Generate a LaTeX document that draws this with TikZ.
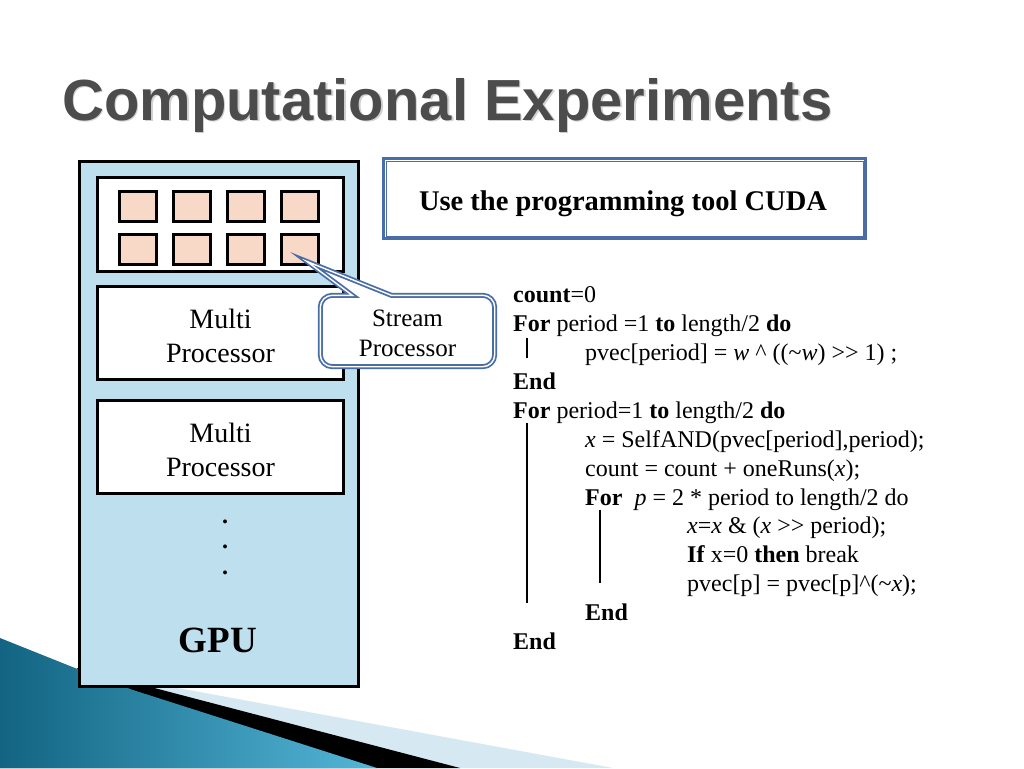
\documentclass[tikz,border=0pt]{standalone}
\usepackage{fontspec}
\setmainfont{Liberation Serif}
\newfontfamily\headfont{Liberation Sans}
\usetikzlibrary{positioning,calc}
\definecolor{gpublue}{RGB}{190,223,238}
\definecolor{corepeach}{RGB}{248,217,200}
\definecolor{frameblue}{RGB}{74,109,165}
\definecolor{titlegray}{RGB}{76,76,76}
\definecolor{tealdark}{RGB}{18,100,130}
\definecolor{teallight}{RGB}{84,182,216}
\definecolor{stripelight}{RGB}{214,232,242}

\begin{document}
\begin{tikzpicture}[x=1pt, y=-1pt,
    box/.style={draw, line width=3pt, inner sep=0pt},
    core/.style={box, fill=corepeach, minimum width=37pt, minimum height=30pt},
    mproc/.style={box, fill=white, minimum width=246pt, minimum height=93pt},
    mptext/.style={align=center, font=\fontsize{28}{34}\selectfont},
    code/.style={anchor=base west, inner sep=0pt, font=\fontsize{24}{29}\selectfont},
    bar/.style={line width=2.5pt},
    dotmark/.style={inner sep=0pt, font=\bfseries\fontsize{24}{29}\selectfont},
]
    \fill[white] (0,0) rectangle (1024,768);
    \useasboundingbox (0,0) rectangle (1024,768);

    % Corner decoration
    \fill[stripelight] (0,720) -- (80,670) -- (613,768) -- (0,768) -- cycle;
    \fill[black] (0,720) -- (78,668) -- (460,768) -- (0,768) -- cycle;
    \shade[left color=tealdark, right color=teallight] (0,638) -- (80,670) -- (133,690) -- (377,768) -- (0,768) -- cycle;

    % Title
    \node[anchor=base west, inner sep=0pt, font=\headfont\bfseries\fontsize{58}{70}\selectfont, text=black!18] (titleshadow) at (63.5,121.5) {Computational Experiments};
    \node[anchor=base west, inner sep=0pt, font=\headfont\bfseries\fontsize{58}{70}\selectfont, text=titlegray] (title) at (62,120) {Computational Experiments};

    % GPU
    \node[box, fill=gpublue, minimum width=279pt, minimum height=525pt] (gpu) at (219,424) {};
    \node[box, fill=white, minimum width=246pt, minimum height=94pt] (cores) at (220.5,224.5) {};
    \foreach \c [count=\i] in {138,192,246,300} {
        \node[core] (a\i) at (\c,206.5) {};
        \node[core] (b\i) at (\c,249) {};
    }
    \node[mproc] (mp1) at (220.5,333) {};
    \node[mptext] (mp1txt) at ([yshift=-3]mp1.center) {Multi\\Processor};
    \node[mproc] (mp2) at (220.5,447) {};
    \node[mptext] (mp2txt) at ([yshift=-3]mp2.center) {Multi\\Processor};
    \foreach \y [count=\k] in {522,547,573}
        \node[dotmark] (dot\k) at (225,\y) {.};
    \node[anchor=base, inner sep=0pt, font=\bfseries\fontsize{37}{44}\selectfont] (gpulabel) at (218,652) {GPU};

    % Stream processor callout
    \coordinate (tip) at ([shift={(-13,-4)}]b4.south east);
    \node[inner sep=0pt, minimum width=174pt, minimum height=71pt] (stream) at (407.5,331) {};
    \draw[frameblue, line width=1.8pt, double=white, double distance=1.4pt, fill=white]
        (stream.west) [rounded corners=12pt] -- (stream.north west)
        [sharp corners] -- ([xshift=32]stream.north west) -- (tip) -- ([xshift=71]stream.north west)
        [rounded corners=12pt] -- (stream.north east) -- (stream.south east) -- (stream.south west) -- cycle;
    \node[align=center, font=\fontsize{25}{30}\selectfont] (streamtxt) at ([yshift=-2]stream.center) {Stream\\Processor};

    % CUDA box
    \node[box, draw=frameblue, fill=white, minimum width=482pt, minimum height=80pt] (cuda) at (624.5,198.5) {};
    \draw[frameblue, line width=1pt] ([shift={(4,4)}]cuda.north west) rectangle ([shift={(-4,-4)}]cuda.south east);
    \node[anchor=base, inner sep=0pt, font=\bfseries\fontsize{28.5}{34}\selectfont] (cudatxt) at (623,210) {Use the programming tool CUDA};

    % Algorithm
    \node[code] (l1) at (513,302) {\textbf{count}=0};
    \node[code] (l2) at (513,331) {\textbf{For} period =1 \textbf{to} length/2 \textbf{do}};
    \node[code] (l3) at (585,360) {pvec[period] = \textit{w} \textasciicircum{} ((\textasciitilde\textit{w}) >{}> 1) ;};
    \node[code] (l4) at (513,389) {\textbf{End}};
    \node[code] (l5) at (513,418) {\textbf{For} period=1 \textbf{to} length/2 \textbf{do}};
    \node[code] (l6) at (585,447) {\textit{x} = SelfAND(pvec[period],period);};
    \node[code] (l7) at (585,476) {count = count + oneRuns(\textit{x});};
    \node[code] (l8) at (585,505) {\textbf{For}\ \ \textit{p} = 2 * period to length/2 do};
    \node[code] (l9) at (687,533) {\textit{x}=\textit{x} \& (\textit{x} >{}> period);};
    \node[code] (l10) at (687,562) {\textbf{If} x=0 \textbf{then} break};
    \node[code] (l11) at (687,591) {pvec[p] = pvec[p]\textasciicircum(\textasciitilde\textit{x});};
    \node[code] (l12) at (585,620) {\textbf{End}};
    \node[code] (l13) at (513,649) {\textbf{End}};

    \draw[bar] ([shift={(14,7)}]l2.base west) -- ([shift={(14,27)}]l2.base west);
    \draw[bar] ([shift={(14,5)}]l5.base west) -- ([shift={(14,185)}]l5.base west);
    \draw[bar] ([shift={(15,5)}]l8.base west) -- ([shift={(15,78)}]l8.base west);
\end{tikzpicture}
\end{document}
